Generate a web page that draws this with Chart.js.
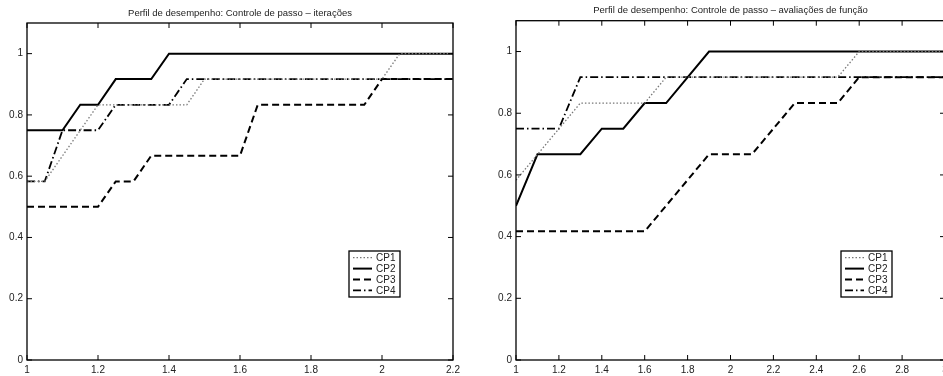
<!DOCTYPE html>
<html>
<head>
<meta charset="utf-8">
<script src="https://cdn.jsdelivr.net/npm/chart.js@4/dist/chart.umd.min.js"></script>
<style>
  html, body { margin: 0; padding: 0; background: #fff; overflow: hidden; }
  #wrap { position: relative; width: 943px; height: 376px; overflow: hidden; }
  #left { position: absolute; left: 0; top: 0; }
  #right { position: absolute; left: 473px; top: 0; }
</style>
</head>
<body>
<div id="wrap">
  <canvas id="left" width="470" height="376"></canvas>
  <canvas id="right" width="490" height="376"></canvas>
</div>
<script>
// DATA (breakpoints of each profile)
const labels = ["CP1", "CP2", "CP3", "CP4"];

// iterações
const iterTitle = "Perfil de desempenho: Controle de passo \u2013 itera\u00e7\u00f5es";
const iterCp1X = [1, 1.05, 1.2, 1.45, 1.5, 2.0, 2.05, 2.2];
const iterCp1Y = [0.583, 0.583, 0.833, 0.833, 0.917, 0.917, 1, 1];
const iterCp2X = [1, 1.1, 1.15, 1.2, 1.25, 1.35, 1.4, 2.2];
const iterCp2Y = [0.75, 0.75, 0.833, 0.833, 0.917, 0.917, 1, 1];
const iterCp3X = [1, 1.2, 1.25, 1.3, 1.35, 1.6, 1.65, 1.95, 2.0, 2.2];
const iterCp3Y = [0.5, 0.5, 0.583, 0.583, 0.667, 0.667, 0.833, 0.833, 0.917, 0.917];
const iterCp4X = [1, 1.05, 1.1, 1.2, 1.25, 1.4, 1.45, 2.2];
const iterCp4Y = [0.583, 0.583, 0.75, 0.75, 0.833, 0.833, 0.917, 0.917];

// avaliações de função
const evalTitle = "Perfil de desempenho: Controle de passo \u2013 avalia\u00e7\u00f5es de fun\u00e7\u00e3o";
const evalCp1X = [1, 1.3, 1.6, 1.7, 2.5, 2.6, 3];
const evalCp1Y = [0.583, 0.833, 0.833, 0.917, 0.917, 1, 1];
const evalCp2X = [1, 1.1, 1.3, 1.4, 1.5, 1.6, 1.7, 1.9, 3];
const evalCp2Y = [0.5, 0.667, 0.667, 0.75, 0.75, 0.833, 0.833, 1, 1];
const evalCp3X = [1, 1.6, 1.9, 2.1, 2.3, 2.5, 2.6, 3];
const evalCp3Y = [0.417, 0.417, 0.667, 0.667, 0.833, 0.833, 0.917, 0.917];
const evalCp4X = [1, 1.2, 1.3, 3];
const evalCp4Y = [0.75, 0.75, 0.917, 0.917];

// STYLES
const FONT = "'Liberation Sans', Arial, Helvetica, sans-serif";
const lineStyles = [
  { borderColor: "#777", borderWidth: 1.3, borderDash: [1.5, 2] },
  { borderColor: "#000", borderWidth: 2, borderDash: [] },
  { borderColor: "#000", borderWidth: 2, borderDash: [7, 4] },
  { borderColor: "#000", borderWidth: 1.8, borderDash: [8, 3, 1.5, 3] }
];

const toPoints = (xs, ys) => xs.map((x, i) => ({ x: x, y: ys[i] }));
const fmt = v => String(Number(v.toFixed(2)));

const makeDatasets = (series) => series.map((s, i) => Object.assign({
  label: labels[i],
  data: toPoints(s[0], s[1]),
  pointRadius: 0,
  tension: 0,
  fill: false
}, lineStyles[i]));

// box around the plot with inward ticks on all four sides (matlab look)
const boxPlugin = {
  id: "box",
  afterDraw(chart) {
    const ctx = chart.ctx;
    const a = chart.chartArea;
    const xs = chart.scales.x, ys = chart.scales.y;
    const len = 5;
    ctx.save();
    ctx.strokeStyle = "#000";
    ctx.lineWidth = 1.3;
    ctx.strokeRect(a.left, a.top, a.right - a.left, a.bottom - a.top);
    ctx.lineWidth = 1;
    ctx.beginPath();
    xs.ticks.forEach(t => {
      const px = xs.getPixelForValue(t.value);
      ctx.moveTo(px, a.bottom); ctx.lineTo(px, a.bottom - len);
      ctx.moveTo(px, a.top); ctx.lineTo(px, a.top + len);
    });
    ys.ticks.forEach(t => {
      const py = ys.getPixelForValue(t.value);
      ctx.moveTo(a.left, py); ctx.lineTo(a.left + len, py);
      ctx.moveTo(a.right, py); ctx.lineTo(a.right - len, py);
    });
    ctx.stroke();
    ctx.restore();
  }
};

// legend box inside the plot, lower right
const legendBoxPlugin = {
  id: "legendBox",
  afterDraw(chart) {
    const ctx = chart.ctx;
    const a = chart.chartArea;
    const w = 51, h = 46;
    const left = a.right - 104, top = a.bottom - 109;
    ctx.save();
    ctx.fillStyle = "#fff";
    ctx.fillRect(left, top, w, h);
    ctx.strokeStyle = "#000";
    ctx.lineWidth = 1.3;
    ctx.setLineDash([]);
    ctx.strokeRect(left, top, w, h);
    ctx.font = "10px " + FONT;
    ctx.textBaseline = "middle";
    chart.data.datasets.forEach((ds, i) => {
      const y = top + 6.7 + i * 10.9;
      ctx.strokeStyle = ds.borderColor;
      ctx.lineWidth = ds.borderWidth;
      ctx.setLineDash(ds.borderDash);
      ctx.beginPath();
      ctx.moveTo(left + 4, y);
      ctx.lineTo(left + 23, y);
      ctx.stroke();
      ctx.fillStyle = "#222";
      ctx.fillText(ds.label, left + 27, y + 0.5);
    });
    ctx.restore();
  }
};

const makeChart = (el, title, series, xMax, opts) => new Chart(el, {
  type: "line",
  data: { datasets: makeDatasets(series) },
  plugins: [boxPlugin, legendBoxPlugin],
  options: {
    responsive: false,
    animation: false,
    devicePixelRatio: 1,
    layout: { padding: { left: 0, right: opts.padRight, top: 0, bottom: 0 } },
    plugins: {
      legend: { display: false },
      tooltip: { enabled: false },
      title: {
        display: true,
        text: title,
        fullSize: false,
        color: "#222",
        font: { family: FONT, size: 9.5, weight: "normal", lineHeight: 1.2 },
        padding: opts.titlePad
      }
    },
    scales: {
      x: {
        type: "linear",
        min: 1,
        max: xMax,
        grid: { display: false, drawTicks: false, tickLength: 0 },
        border: { display: false },
        ticks: { stepSize: 0.2, color: "#222", padding: 4, maxRotation: 0,
                 font: { family: FONT, size: 10 }, callback: fmt },
        afterFit: s => { s.height = 16; }
      },
      y: {
        min: 0,
        max: 1.1,
        grid: { display: false, drawTicks: false, tickLength: 0 },
        border: { display: false },
        ticks: { stepSize: 0.2, includeBounds: false, color: "#222", padding: 4,
                 font: { family: FONT, size: 10 }, callback: fmt },
        afterFit: s => { s.width = opts.yWidth; }
      }
    }
  }
});

makeChart(document.getElementById("left"), iterTitle,
  [[iterCp1X, iterCp1Y], [iterCp2X, iterCp2Y], [iterCp3X, iterCp3Y], [iterCp4X, iterCp4Y]],
  2.2, { padRight: 17, yWidth: 27, titlePad: { top: 7.3, bottom: 4.3 } });

makeChart(document.getElementById("right"), evalTitle,
  [[evalCp1X, evalCp1Y], [evalCp2X, evalCp2Y], [evalCp3X, evalCp3Y], [evalCp4X, evalCp4Y]],
  3, { padRight: 18, yWidth: 43, titlePad: { top: 4.3, bottom: 5.0 } });
</script>
</body>
</html>
